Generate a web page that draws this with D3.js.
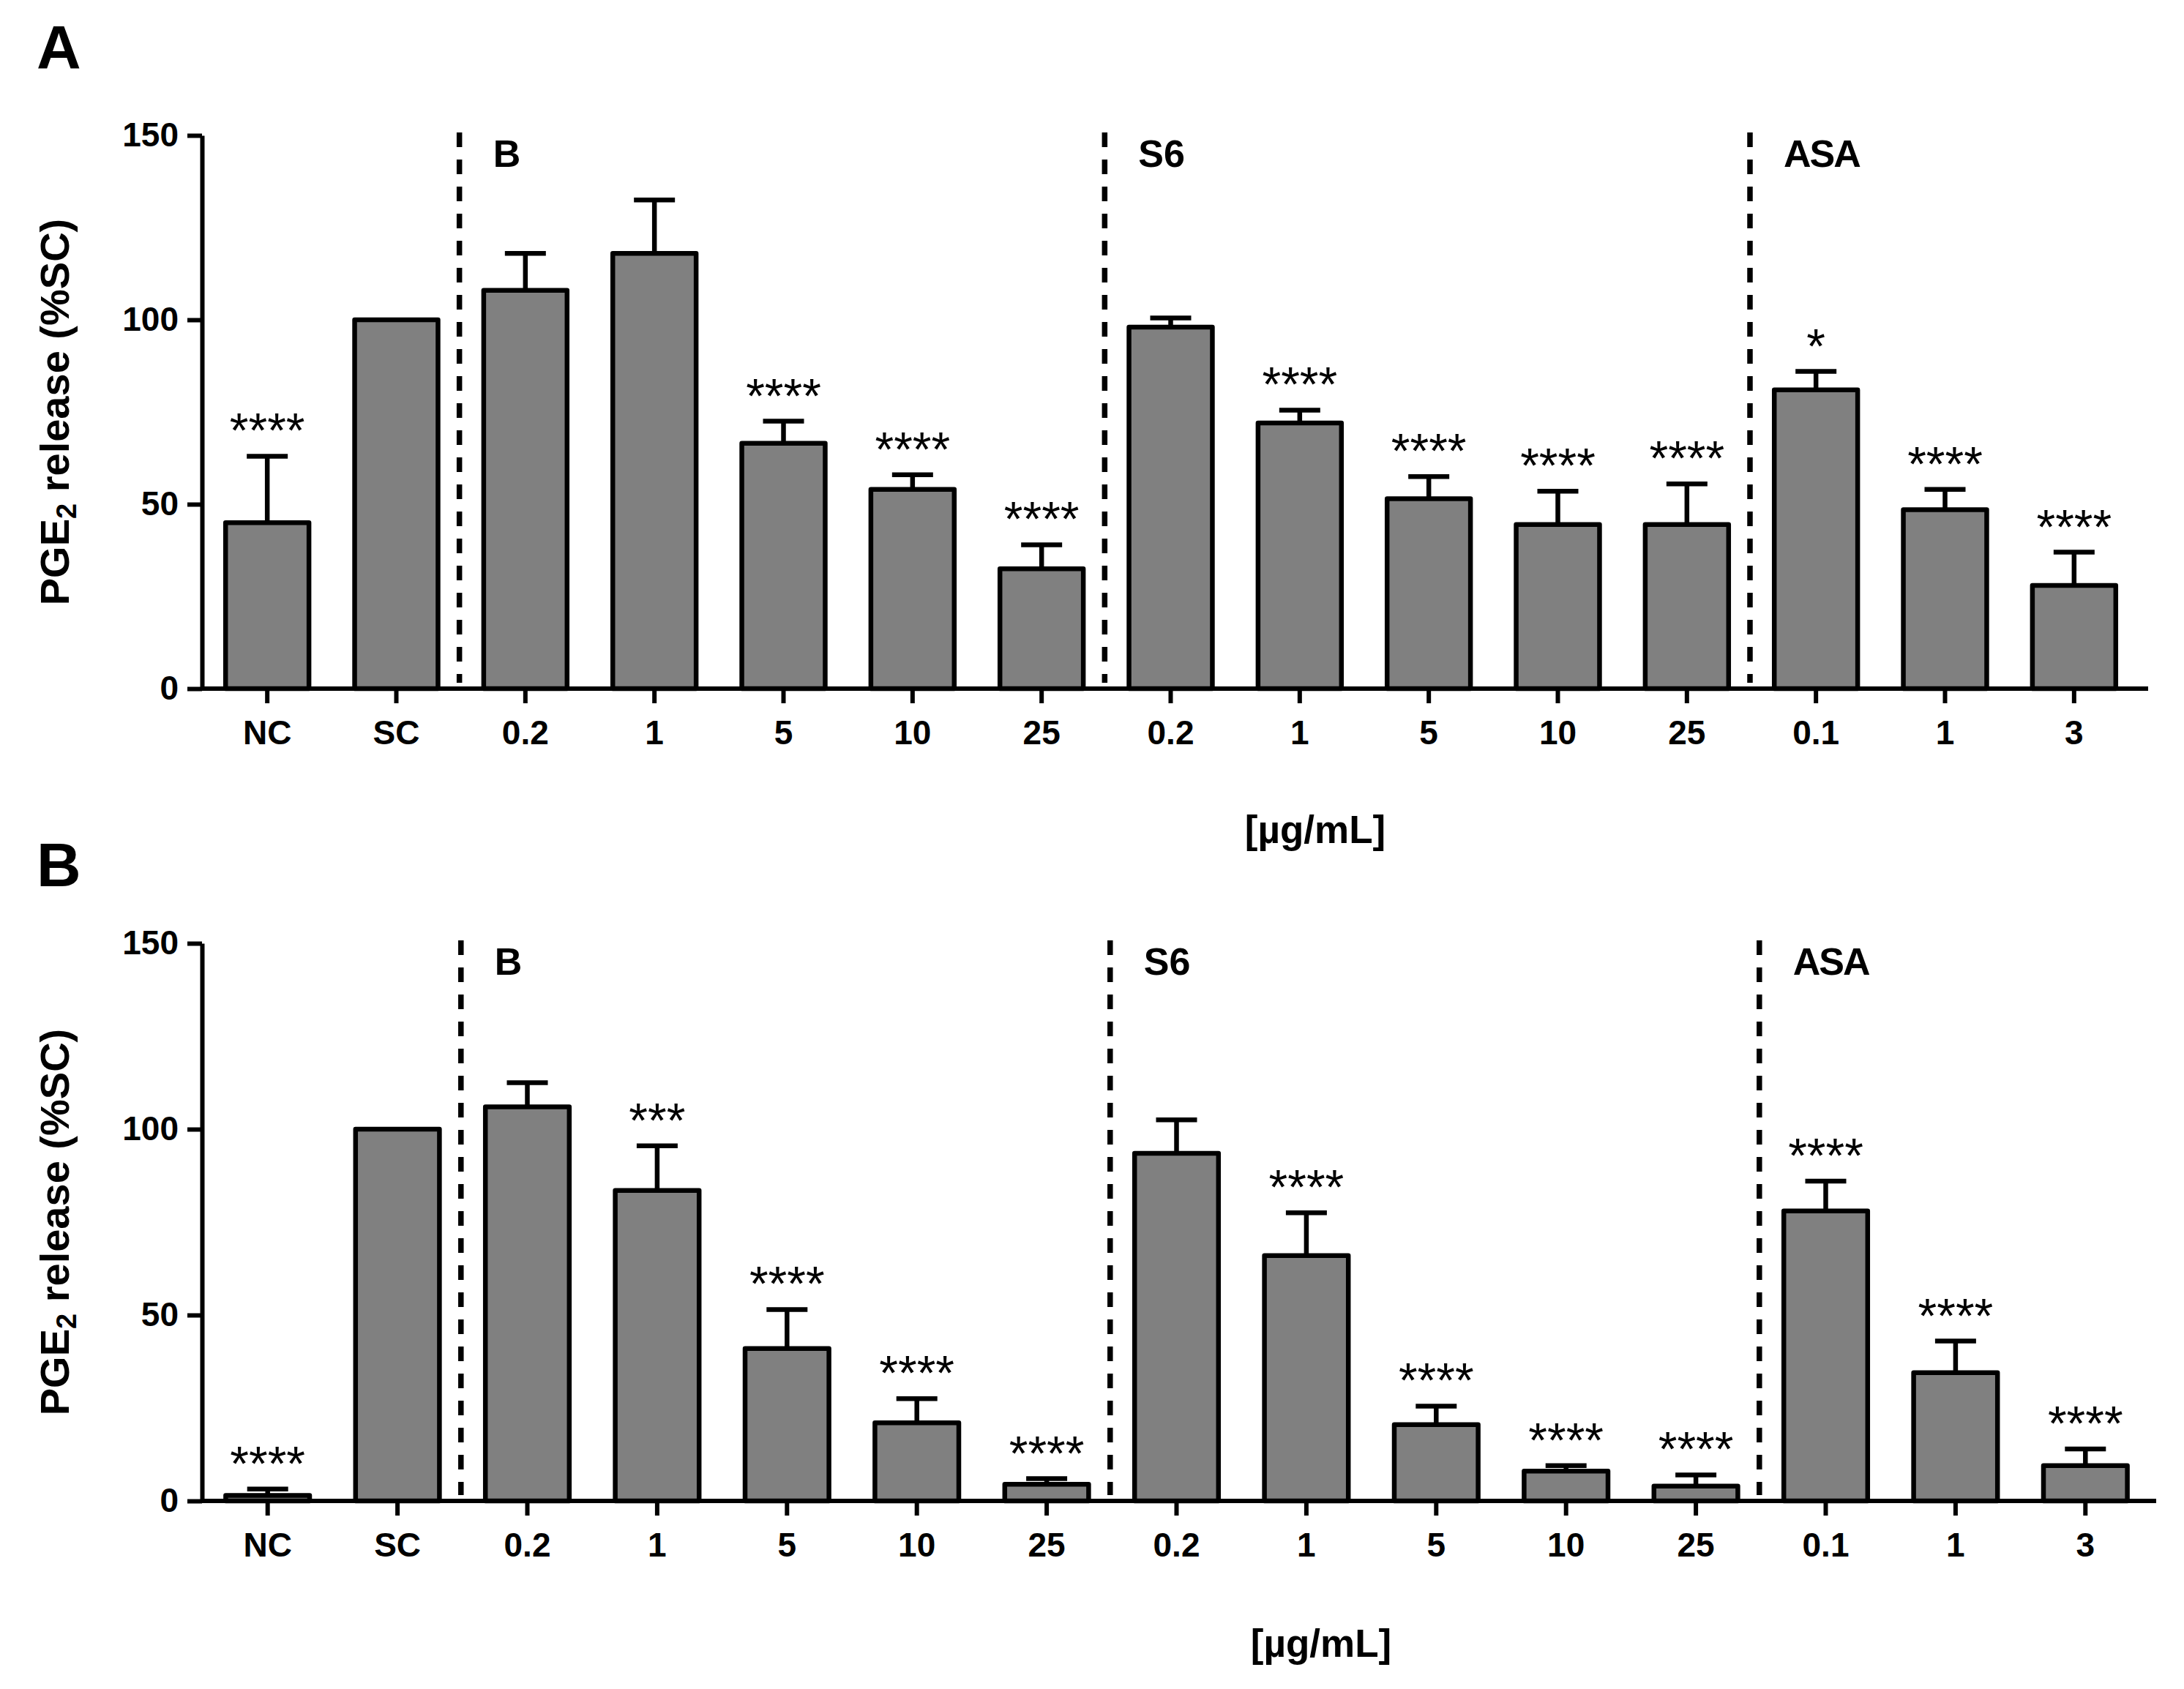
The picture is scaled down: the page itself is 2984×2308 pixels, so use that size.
<!DOCTYPE html>
<html>
<head>
<meta charset="utf-8">
<script src="https://cdn.jsdelivr.net/npm/d3@7"></script>
<style>
  body { margin: 0; background: #fff; }
  svg { display: block; }
</style>
</head>
<body>
<div id="chart"></div>
<script>
/* CONSTANTS AND DATA */
const width = 2984,
  height = 2308;
const font = "Arial, 'Liberation Sans', Helvetica, sans-serif";

// tick labels along x (same for both panels)
const doseLabels = ["NC", "SC", "0.2", "1", "5", "10", "25", "0.2", "1", "5", "10", "25", "0.1", "1", "3"];
// treatment groups: label + index of first bar in the group
const groupLabels = ["B", "S6", "ASA"];
const groupStarts = [2, 7, 12];
const yTicks = [0, 50, 100, 150];

// panel A: mean and SEM in % of SC
const meanA = [45, 100, 108, 118, 66.5, 54, 32.5, 98, 72, 51.5, 44.5, 44.5, 81, 48.5, 28];
const semA = [18, 0, 10, 14.5, 6, 4, 6.5, 2.5, 3.5, 6, 9, 11, 5, 5.5, 9];
const starsA = ["****", "", "", "", "****", "****", "****", "", "****", "****", "****", "****", "*", "****", "****"];

// panel B
const meanB = [1.5, 100, 106, 83.5, 41, 21, 4.5, 93.5, 66, 20.5, 8, 4, 78, 34.5, 9.5];
const semB = [1.7, 0, 6.5, 12, 10.5, 6.5, 1.5, 9, 11.5, 5, 1.5, 3, 8, 8.5, 4.5];
const starsB = ["****", "", "", "***", "****", "****", "****", "", "****", "****", "****", "****", "****", "****", "****"];

// layout of each panel (pixels)
const panels = [
  { tag: "A", mean: meanA, sem: semA, stars: starsA,
    top: 185, bottom: 941, left: 276, bandStart: 277, bandEnd: 2922, axisEnd: 2935,
    tagY: 94, unitX: 1797, unitY: 1152 },
  { tag: "B", mean: meanB, sem: semB, stars: starsB,
    top: 1289, bottom: 2051, left: 276, bandStart: 277, bandEnd: 2938, axisEnd: 2946,
    tagY: 1211, unitX: 1805, unitY: 2264 }
];

const svg = d3.select("#chart")
  .append("svg")
  .attr("width", width)
  .attr("height", height)
  .style("font-family", font);

panels.forEach(drawPanel);

function drawPanel(p) {
  const idx = d3.range(doseLabels.length);

  const yScale = d3.scaleLinear()
    .domain([0, 150])
    .range([p.bottom, p.top]);

  const xScale = d3.scaleBand()
    .domain(idx)
    .range([p.bandStart, p.bandEnd])
    .paddingInner(0.354)
    .paddingOuter(0.177);

  const g = svg.append("g");
  const cx = i => xScale(i) + xScale.bandwidth() / 2;

  // panel letter
  g.append("text")
    .attr("x", 50)
    .attr("y", p.tagY)
    .attr("font-size", 84)
    .attr("font-weight", "bold")
    .text(p.tag);

  // dashed separators + group names
  groupStarts.forEach((s, k) => {
    const dx = (cx(s - 1) + cx(s)) / 2 - 2;
    g.append("line")
      .attr("x1", dx).attr("x2", dx)
      .attr("y1", yScale(150) - 4)
      .attr("y2", yScale(0) - 8)
      .attr("stroke", "#000")
      .attr("stroke-width", 7.5)
      .attr("stroke-dasharray", "20 17");

    g.append("text")
      .attr("x", dx + 46)
      .attr("y", yScale(150) + 43)
      .attr("font-size", 52)
      .attr("font-weight", "bold")
      .attr("letter-spacing", groupLabels[k] === "ASA" ? -2 : 0)
      .text(groupLabels[k]);
  });

  // error bars (upper only)
  const err = g.append("g")
    .selectAll("g")
    .data(idx.filter(i => p.sem[i] > 0))
    .join("g")
    .attr("stroke", "#000")
    .attr("stroke-width", 6.5);

  err.append("line")
    .attr("x1", cx).attr("x2", cx)
    .attr("y1", i => yScale(p.mean[i]))
    .attr("y2", i => yScale(p.mean[i] + p.sem[i]));

  err.append("line")
    .attr("x1", i => cx(i) - 28)
    .attr("x2", i => cx(i) + 28)
    .attr("y1", i => yScale(p.mean[i] + p.sem[i]))
    .attr("y2", i => yScale(p.mean[i] + p.sem[i]));

  // bars
  g.append("g")
    .selectAll("rect")
    .data(idx)
    .join("rect")
    .attr("x", i => xScale(i))
    .attr("width", xScale.bandwidth())
    .attr("y", i => yScale(p.mean[i]))
    .attr("height", i => yScale(0) - yScale(p.mean[i]))
    .attr("fill", "#808080")
    .attr("stroke", "#000")
    .attr("stroke-width", 6.5)
    .attr("stroke-linejoin", "round");

  // significance stars
  g.append("g")
    .selectAll("text")
    .data(idx.filter(i => p.stars[i]))
    .join("text")
    .attr("x", cx)
    .attr("y", i => yScale(p.mean[i] + p.sem[i]) - 12)
    .attr("text-anchor", "middle")
    .attr("font-size", 66)
    .text(i => p.stars[i]);

  // axes
  const yAxis = d3.axisLeft(yScale)
    .tickValues(yTicks)
    .tickSize(20)
    .tickSizeOuter(0)
    .tickPadding(12);

  const yAxisGroup = g.append("g")
    .attr("transform", `translate(${p.left},0)`)
    .call(yAxis)
    .attr("font-size", 46)
    .attr("font-family", font)
    .attr("font-weight", "bold");

  const xAxis = d3.axisBottom(xScale)
    .tickFormat(i => doseLabels[i])
    .tickSize(20)
    .tickSizeOuter(0)
    .tickPadding(23);

  const xAxisGroup = g.append("g")
    .attr("transform", `translate(0,${p.bottom})`)
    .call(xAxis)
    .attr("font-size", 46)
    .attr("font-family", font)
    .attr("font-weight", "bold");

  xAxisGroup.select(".domain")
    .attr("d", `M${p.left},0H${p.axisEnd}`);

  [xAxisGroup, yAxisGroup].forEach(a => {
    a.selectAll("path, line").attr("stroke", "#000").attr("stroke-width", 6);
    a.selectAll("text").attr("fill", "#000");
  });

  // y axis title with subscript
  const title = g.append("text")
    .attr("transform", `translate(94,${(p.top + p.bottom) / 2}) rotate(-90)`)
    .attr("text-anchor", "middle")
    .attr("font-size", 56)
    .attr("font-weight", "bold");
  title.append("tspan").text("PGE");
  title.append("tspan").attr("font-size", 38).attr("dy", 10).text("2");
  title.append("tspan").attr("dy", -10).text(" release (%SC)");

  // unit label
  g.append("text")
    .attr("x", p.unitX)
    .attr("y", p.unitY)
    .attr("text-anchor", "middle")
    .attr("font-size", 53)
    .attr("font-weight", "bold")
    .text("[µg/mL]");
}
</script>
</body>
</html>
